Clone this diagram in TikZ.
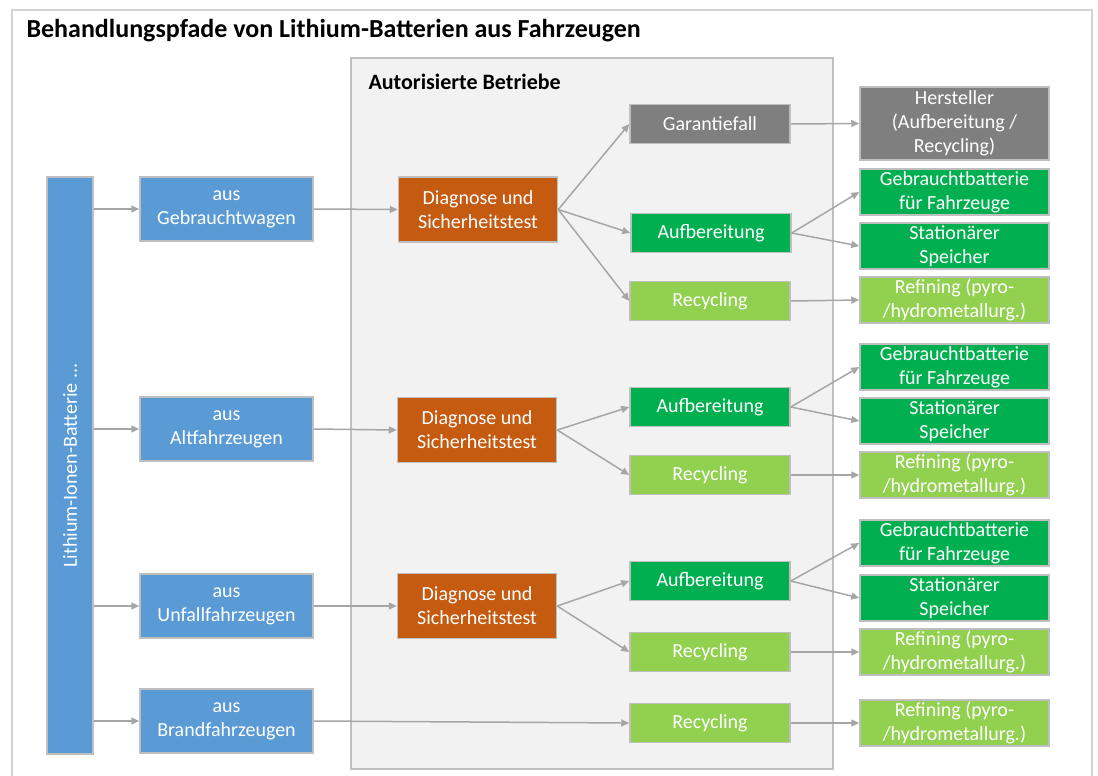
\documentclass[tikz,border=0pt]{standalone}
\usepackage{fontspec}
\setmainfont{Carlito}
\usetikzlibrary{arrows.meta}

\definecolor{srcblue}{HTML}{5B9BD5}
\definecolor{diagorange}{HTML}{C55A11}
\definecolor{garantgray}{HTML}{7F7F7F}
\definecolor{aufgreen}{HTML}{00B050}
\definecolor{recgreen}{HTML}{92D050}
\definecolor{boxline}{HTML}{BFBFBF}
\definecolor{arrowgray}{HTML}{A6A6A6}
\definecolor{panelgray}{HTML}{F2F2F2}

\begin{document}
\begin{tikzpicture}
            [x=1pt, y=-1pt, >={Triangle[length=8pt,width=7pt]},
             every edge/.style={draw=arrowgray, line width=1.5pt},
             box/.style={draw=boxline, line width=1.5pt, text=white, align=center,
                         inner sep=0pt, font=\fontsize{20}{24}\selectfont},
             src/.style={box, fill=srcblue, minimum width=173pt, minimum height=64pt},
             diag/.style={box, fill=diagorange, minimum width=159pt, minimum height=65pt},
             mid/.style={box, minimum width=160pt, minimum height=39pt},
             dest/.style={box, minimum width=189pt, minimum height=46pt}]
            \useasboundingbox (0, 0) rectangle (1098, 776);
            % frame and panel
            \draw[draw=boxline!70, line width=1.5pt] (12, 776) |- (1092, 10) -- (1092, 776);
            \node[anchor=west, font=\fontsize{26}{30}\selectfont\bfseries] (title) at (23, 31) {Behandlungspfade von Lithium-Batterien aus Fahrzeugen};
            \draw[fill=panelgray, draw=boxline, line width=1.5pt] (351, 58) rectangle (833, 769);
            \node[anchor=west, font=\fontsize{22}{26}\selectfont\bfseries] (panel) at (365, 82) {Autorisierte Betriebe};

            % sources
            \node[box, fill=srcblue, minimum width=46pt, minimum height=577pt] (bar) at (70, 465.5) {\rotatebox{90}{Lithium-Ionen-Batterie ...}};
            \node[src] (g1) at (226.5, 209) {aus\\Gebrauchtwagen};
            \node[src] (g2) at (226.5, 429) {aus\\Altfahrzeugen};
            \node[src] (g3) at (226.5, 606) {aus\\Unfallfahrzeugen};
            \node[src] (g4) at (226.5, 721) {aus\\Brandfahrzeugen};

            % tests
            \node[diag] (d1) at (478, 209.5) {Diagnose und\\Sicherheitstest};
            \node[diag] (d2) at (477, 430) {Diagnose und\\Sicherheitstest};
            \node[diag] (d3) at (477, 606) {Diagnose und\\Sicherheitstest};

            % paths
            \node[mid, fill=garantgray] (gar) at (710, 124) {Garantiefall};
            \node[mid, fill=aufgreen] (auf1) at (711, 233) {Aufbereitung};
            \node[mid, fill=recgreen] (rec1) at (710, 301) {Recycling};
            \node[mid, fill=aufgreen] (auf2) at (710, 407) {Aufbereitung};
            \node[mid, fill=recgreen] (rec2) at (710, 475) {Recycling};
            \node[mid, fill=aufgreen] (auf3) at (710, 581) {Aufbereitung};
            \node[mid, fill=recgreen] (rec3) at (710, 652) {Recycling};
            \node[mid, fill=recgreen] (rec4) at (710, 723) {Recycling};

            % outcomes
            \node[dest, fill=garantgray, minimum height=73pt] (her) at (954.5, 123.5) {Hersteller\\(Aufbereitung /\\Recycling)};
            \node[dest, fill=aufgreen] (gb1) at (954.5, 192) {Gebrauchtbatterie\\für Fahrzeuge};
            \node[dest, fill=aufgreen] (st1) at (954.5, 246) {Stationärer\\Speicher};
            \node[dest, fill=recgreen] (rf1) at (954.5, 300) {Refining (pyro-\\/hydrometallurg.)};
            \node[dest, fill=aufgreen] (gb2) at (954.5, 367) {Gebrauchtbatterie\\für Fahrzeuge};
            \node[dest, fill=aufgreen] (st2) at (954.5, 421) {Stationärer\\Speicher};
            \node[dest, fill=recgreen] (rf2) at (954.5, 475) {Refining (pyro-\\/hydrometallurg.)};
            \node[dest, fill=aufgreen] (gb3) at (954.5, 543) {Gebrauchtbatterie\\für Fahrzeuge};
            \node[dest, fill=aufgreen] (st3) at (954.5, 598) {Stationärer\\Speicher};
            \node[dest, fill=recgreen] (rf3) at (954.5, 652) {Refining (pyro-\\/hydrometallurg.)};
            \node[dest, fill=recgreen] (rf4) at (954.5, 723) {Refining (pyro-\\/hydrometallurg.)};

            \path [->] (bar.east |- g1.west) edge (g1.west);
            \path [->] (bar.east |- g2.west) edge (g2.west);
            \path [->] (bar.east |- g3.west) edge (g3.west);
            \path [->] (bar.east |- g4.west) edge (g4.west);

            \path [->] (g1.east) edge (d1.west);
            \path [->] (g2.east) edge (d2.west);
            \path [->] (g3.east) edge (d3.west);
            \path [->] (g4.east) edge (rec4.west);

            \path [->] (d1.east) edge (gar.west);
            \path [->] (d1.east) edge (auf1.west);
            \path [->] (d1.east) edge (rec1.west);
            \path [->] (d2.east) edge (auf2.west);
            \path [->] (d2.east) edge (rec2.west);
            \path [->] (d3.east) edge (auf3.west);
            \path [->] (d3.east) edge (rec3.west);

            \path [->] (gar.east) edge (her.west);
            \path [->] (auf1.east) edge (gb1.west);
            \path [->] (auf1.east) edge (st1.west);
            \path [->] (rec1.east) edge (rf1.west);
            \path [->] (auf2.east) edge (gb2.west);
            \path [->] (auf2.east) edge (st2.west);
            \path [->] (rec2.east) edge (rf2.west);
            \path [->] (auf3.east) edge (gb3.west);
            \path [->] (auf3.east) edge (st3.west);
            \path [->] (rec3.east) edge (rf3.west);
            \path [->] (rec4.east) edge (rf4.west);
        \end{tikzpicture}
\end{document}
